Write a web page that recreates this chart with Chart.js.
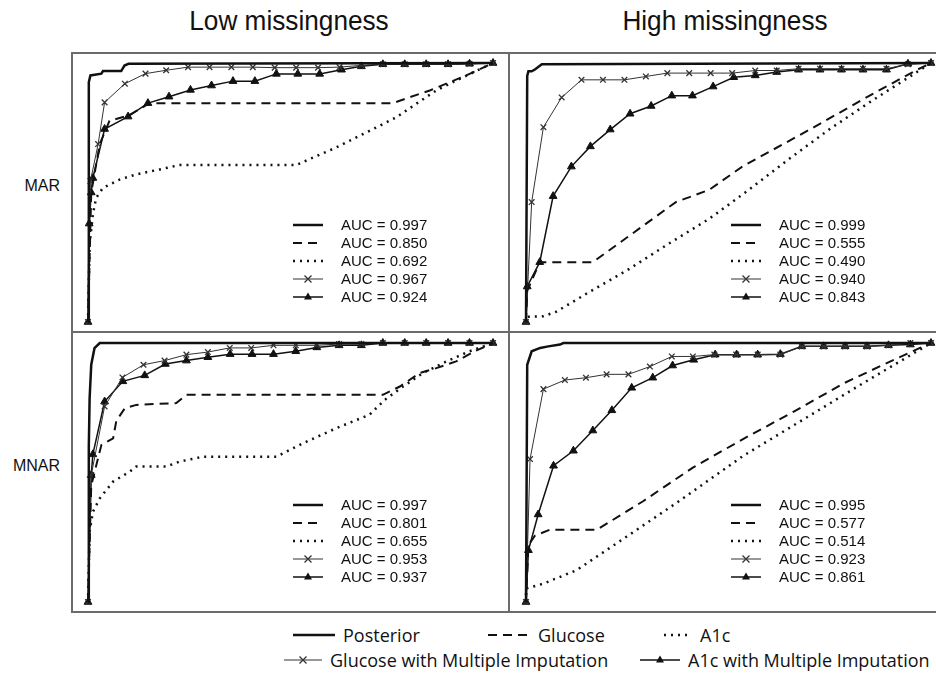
<!DOCTYPE html>
<html>
<head>
<meta charset="utf-8">
<script src="https://cdn.jsdelivr.net/npm/chart.js@4.4.1/dist/chart.umd.min.js"></script>
<style>
	html, body { margin: 0; padding: 0; background: #fff; overflow: hidden; }
	body { width: 936px; height: 680px; position: relative; font-family: 'Liberation Sans', Arial, sans-serif; color: #111; }
	.title { position: absolute; top: 6px; font-size: 27px; transform: translateX(-50%) scaleX(0.97); white-space: nowrap; }
	.row-label { position: absolute; font-size: 16px; right: 876px; transform: translateY(-50%); }
	.rule { position: absolute; background: #6b6b6b; }
	.panel { position: absolute; width: 425px; height: 279px; }
	.auc { position: absolute; font-size: 15px; line-height: 18px; }
	.auc-row { position: relative; height: 18px; white-space: nowrap; }
	.auc-row svg { position: absolute; left: 0; top: 0; }
	.auc-row span { position: absolute; left: 48px; top: 0; }
	.key { position: absolute; font-family: 'Open Sans', sans-serif; font-size: 18px; white-space: nowrap; display: flex; align-items: center; }
	.key svg { margin-right: 8px; }
</style>
</head>
<body>

<div class="title" style="left:289px">Low missingness</div>
<div class="title" style="left:725px">High missingness</div>
<div class="row-label" style="top:186px">MAR</div>
<div class="row-label" style="top:466px">MNAR</div>

<div class="rule" style="left:72px;top:52px;width:870px;height:2px"></div>
<div class="rule" style="left:72px;top:331px;width:870px;height:2px"></div>
<div class="rule" style="left:72px;top:611px;width:870px;height:2px"></div>
<div class="rule" style="left:71px;top:52px;width:2px;height:561px"></div>
<div class="rule" style="left:508px;top:52px;width:2px;height:561px"></div>

<div class="panel" style="left:78px;top:53px"><canvas id="c-low-mar"></canvas></div>
<div class="panel" style="left:516px;top:53px"><canvas id="c-high-mar"></canvas></div>
<div class="panel" style="left:78px;top:333px"><canvas id="c-low-mnar"></canvas></div>
<div class="panel" style="left:516px;top:333px"><canvas id="c-high-mnar"></canvas></div>

<div id="keys"></div>

<script>
// ── Data (FPR, TPR) ───────────────────────────────────────────────────────────

const seriesNames = ['Posterior', 'Glucose', 'A1c', 'Glucose with Multiple Imputation', 'A1c with Multiple Imputation'];

// Low missingness, MAR
const lowMarPosterior = [[0,0],[0.002,0.926],[0.006,0.952],[0.033,0.959],[0.037,0.969],[0.082,0.969],[0.09,0.99],[0.1,0.997],[1,1]];
const lowMarGlucose = [[0,0],[0.008,0.5],[0.029,0.687],[0.053,0.777],[0.1,0.797],[0.152,0.845],[0.753,0.845],[0.794,0.868],[0.844,0.894],[0.893,0.926],[0.934,0.952],[1,1]];
const lowMarA1c = [[0,0],[0.004,0.3],[0.012,0.415],[0.02,0.479],[0.037,0.518],[0.078,0.55],[0.119,0.57],[0.177,0.589],[0.226,0.606],[0.514,0.606],[0.556,0.635],[0.613,0.674],[0.695,0.738],[0.761,0.79],[0.81,0.842],[0.86,0.894],[0.918,0.939],[1,1]];
const lowMarGlucoseMI = [[0,0],[0.006,0.544],[0.025,0.687],[0.041,0.848],[0.091,0.92],[0.142,0.959],[0.193,0.972],[0.247,0.984],[0.3,0.984],[0.354,0.984],[0.407,0.984],[0.461,0.982],[0.514,0.982],[0.568,0.982],[0.621,0.984],[0.675,0.991],[0.728,0.995],[0.782,0.995],[0.835,0.995],[0.889,0.995],[0.942,0.997],[1,1]];
const lowMarA1cMI = [[0,0],[0.003,0.38],[0.008,0.5],[0.012,0.556],[0.041,0.745],[0.099,0.793],[0.148,0.845],[0.2,0.87],[0.253,0.896],[0.305,0.913],[0.358,0.93],[0.412,0.93],[0.465,0.958],[0.518,0.958],[0.572,0.958],[0.626,0.974],[0.675,0.987],[0.728,0.995],[0.782,0.995],[0.835,0.995],[0.889,0.995],[0.942,0.997],[1,1]];
const lowMarAuc = ['0.997', '0.850', '0.692', '0.967', '0.924'];

// High missingness, MAR
const highMarPosterior = [[0,0],[0.003,0.95],[0.006,0.968],[0.014,0.968],[0.022,0.975],[0.039,0.995],[1,1]];
const highMarGlucose = [[0,0],[0.003,0.12],[0.034,0.231],[0.165,0.231],[0.25,0.327],[0.37,0.463],[0.452,0.51],[0.534,0.6],[0.697,0.74],[0.861,0.885],[0.967,0.975],[1,1]];
const highMarA1c = [[0,0],[0,0.02],[0.043,0.022],[0.075,0.04],[0.15,0.11],[0.25,0.2],[0.35,0.3],[0.452,0.398],[0.55,0.51],[0.65,0.63],[0.75,0.745],[0.85,0.85],[0.93,0.93],[1,1]];
const highMarGlucoseMI = [[0,0],[0.014,0.463],[0.043,0.752],[0.088,0.867],[0.137,0.935],[0.19,0.935],[0.243,0.935],[0.296,0.948],[0.349,0.961],[0.403,0.961],[0.456,0.961],[0.509,0.961],[0.566,0.971],[0.619,0.971],[0.673,0.978],[0.726,0.978],[0.779,0.978],[0.832,0.978],[0.89,0.978],[0.943,0.995],[1,1]];
const highMarA1cMI = [[0,0],[0.003,0.137],[0.034,0.231],[0.067,0.486],[0.112,0.6],[0.159,0.678],[0.208,0.743],[0.257,0.804],[0.309,0.834],[0.36,0.874],[0.411,0.874],[0.462,0.909],[0.513,0.945],[0.566,0.952],[0.619,0.965],[0.673,0.974],[0.726,0.974],[0.779,0.974],[0.832,0.974],[0.89,0.974],[0.943,0.997],[1,1]];
const highMarAuc = ['0.999', '0.555', '0.490', '0.940', '0.843'];

// Low missingness, MNAR
const lowMnarPosterior = [[0,0],[0.002,0.6],[0.004,0.787],[0.008,0.916],[0.016,0.98],[0.029,1],[1,1]];
const lowMnarGlucose = [[0,0],[0.008,0.45],[0.033,0.606],[0.062,0.632],[0.07,0.7],[0.091,0.748],[0.119,0.761],[0.218,0.768],[0.243,0.8],[0.728,0.8],[0.77,0.832],[0.819,0.884],[0.86,0.903],[0.909,0.929],[0.955,0.968],[1,1]];
const lowMnarA1c = [[0,0],[0.004,0.271],[0.012,0.348],[0.029,0.4],[0.062,0.465],[0.103,0.503],[0.119,0.523],[0.193,0.523],[0.226,0.542],[0.284,0.561],[0.465,0.561],[0.531,0.613],[0.613,0.671],[0.695,0.723],[0.733,0.781],[0.778,0.832],[0.827,0.884],[0.885,0.929],[0.942,0.968],[1,1]];
const lowMnarGlucoseMI = [[0,0],[0.008,0.49],[0.041,0.755],[0.085,0.867],[0.137,0.916],[0.189,0.932],[0.243,0.955],[0.296,0.965],[0.35,0.981],[0.403,0.981],[0.458,0.991],[0.513,0.991],[0.564,0.991],[0.62,0.996],[0.675,0.996],[0.728,1],[0.782,1],[0.835,1],[0.889,1],[0.942,1],[1,1]];
const lowMnarA1cMI = [[0,0],[0.008,0.49],[0.012,0.57],[0.041,0.774],[0.086,0.852],[0.14,0.875],[0.191,0.919],[0.243,0.932],[0.296,0.945],[0.351,0.957],[0.405,0.957],[0.458,0.957],[0.513,0.968],[0.565,0.983],[0.62,0.991],[0.675,0.991],[0.728,1],[0.782,1],[0.835,1],[0.889,1],[0.942,1],[1,1]];
const lowMnarAuc = ['0.997', '0.801', '0.655', '0.953', '0.937'];

// High missingness, MNAR
const highMnarPosterior = [[0,0],[0.003,0.916],[0.014,0.968],[0.035,0.981],[0.055,0.987],[0.084,0.994],[0.092,1],[1,1]];
const highMnarGlucose = [[0,0],[0.006,0.22],[0.022,0.256],[0.059,0.279],[0.175,0.279],[0.29,0.39],[0.413,0.52],[0.537,0.63],[0.66,0.734],[0.784,0.844],[0.908,0.935],[1,1]];
const highMnarA1c = [[0,0],[0,0.052],[0.043,0.071],[0.125,0.123],[0.249,0.253],[0.372,0.383],[0.537,0.565],[0.702,0.721],[0.825,0.838],[1,1]];
const highMnarGlucoseMI = [[0,0],[0.01,0.552],[0.043,0.822],[0.096,0.857],[0.148,0.866],[0.199,0.879],[0.253,0.879],[0.306,0.909],[0.36,0.948],[0.412,0.948],[0.465,0.955],[0.519,0.955],[0.572,0.955],[0.628,0.955],[0.681,0.987],[0.735,0.987],[0.788,0.987],[0.842,0.987],[0.895,0.991],[0.949,1],[1,1]];
const highMnarA1cMI = [[0,0],[0.006,0.2],[0.03,0.338],[0.068,0.526],[0.117,0.584],[0.165,0.662],[0.212,0.74],[0.261,0.827],[0.313,0.866],[0.362,0.913],[0.414,0.935],[0.467,0.955],[0.52,0.955],[0.572,0.955],[0.628,0.957],[0.681,0.987],[0.735,0.987],[0.788,0.987],[0.842,0.987],[0.895,0.991],[0.949,0.994],[1,1]];
const highMnarAuc = ['0.995', '0.577', '0.514', '0.923', '0.861'];

// ── Styles ────────────────────────────────────────────────────────────────────

const INK = '#111';

const STYLES = [
	{ borderWidth: 2.5, borderDash: [], pointRadius: 0 },
	{ borderWidth: 2, borderDash: [9, 6], pointRadius: 0 },
	{ borderWidth: 2.5, borderDash: [2, 5], pointRadius: 0 },
	{ borderWidth: 1, borderDash: [], pointRadius: 4, pointStyle: 'crossRot', pointBorderWidth: 1.3, color: '#333' },
	{ borderWidth: 1.5, borderDash: [], pointRadius: 4.5, pointStyle: 'triangle', pointBorderWidth: 1 },
];

function toXY(pairs) {
	return pairs.map(([x, y]) => ({ x, y }));
}

function makePanel(id, series) {
	const datasets = series.map((pairs, i) => {
		const s = STYLES[i];
		const c = s.color || INK;
		return {
			label: seriesNames[i],
			data: toXY(pairs),
			borderColor: c,
			backgroundColor: c,
			borderWidth: s.borderWidth,
			borderDash: s.borderDash,
			pointRadius: s.pointRadius,
			pointStyle: s.pointStyle || 'circle',
			pointBorderWidth: s.pointBorderWidth || 1,
			pointBorderColor: c,
			pointBackgroundColor: c,
			tension: 0,
			clip: false,
		};
	});

	new Chart(document.getElementById(id), {
		type: 'line',
		data: { datasets },
		options: {
			responsive: true,
			maintainAspectRatio: false,
			animation: false,
			events: [],
			layout: { padding: 10 },
			plugins: { legend: { display: false }, tooltip: { enabled: false } },
			scales: {
				x: { type: 'linear', min: 0, max: 1, display: false },
				y: { type: 'linear', min: 0, max: 1, display: false },
			},
		},
	});
}

// ── Legend samples (small svg strokes) ────────────────────────────────────────

function sample(i, w) {
	const s = STYLES[i];
	const c = s.color || INK;
	const mid = w / 2;
	let mark = '';
	if (s.pointStyle === 'crossRot') {
		mark = `<path d="M${mid - 3.5} 5.5 L${mid + 3.5} 12.5 M${mid - 3.5} 12.5 L${mid + 3.5} 5.5" stroke="${c}" stroke-width="1.3"/>`;
	} else if (s.pointStyle === 'triangle') {
		mark = `<path d="M${mid} 4.5 L${mid + 4} 11.5 L${mid - 4} 11.5 Z" fill="${c}"/>`;
	}
	const dash = s.borderDash.length ? `stroke-dasharray="${s.borderDash.join(' ')}"` : '';
	return `<svg width="${w}" height="18"><line x1="0" y1="9" x2="${w}" y2="9" stroke="${c}" stroke-width="${s.borderWidth}" ${dash}/>${mark}</svg>`;
}

function aucLegend(left, top, values) {
	const box = document.createElement('div');
	box.className = 'auc';
	box.style.left = left + 'px';
	box.style.top = top + 'px';
	box.innerHTML = values
		.map((v, i) => `<div class="auc-row">${sample(i, 30)}<span>AUC = ${v}</span></div>`)
		.join('');
	document.body.appendChild(box);
}

// ── Build ─────────────────────────────────────────────────────────────────────

makePanel('c-low-mar', [lowMarPosterior, lowMarGlucose, lowMarA1c, lowMarGlucoseMI, lowMarA1cMI]);
makePanel('c-high-mar', [highMarPosterior, highMarGlucose, highMarA1c, highMarGlucoseMI, highMarA1cMI]);
makePanel('c-low-mnar', [lowMnarPosterior, lowMnarGlucose, lowMnarA1c, lowMnarGlucoseMI, lowMnarA1cMI]);
makePanel('c-high-mnar', [highMnarPosterior, highMnarGlucose, highMnarA1c, highMnarGlucoseMI, highMnarA1cMI]);

aucLegend(293, 216, lowMarAuc);
aucLegend(731, 216, highMarAuc);
aucLegend(293, 496, lowMnarAuc);
aucLegend(731, 496, highMnarAuc);

// Shared key under the grid
const keyPos = [
	{ left: 293, top: 623, w: 42 },
	{ left: 488, top: 623, w: 42 },
	{ left: 664, top: 623, w: 28 },
	{ left: 284, top: 648, w: 38 },
	{ left: 640, top: 648, w: 40 },
];
const keys = document.getElementById('keys');
keyPos.forEach((p, i) => {
	const el = document.createElement('div');
	el.className = 'key';
	el.style.left = p.left + 'px';
	el.style.top = p.top + 'px';
	el.innerHTML = sample(i, p.w) + `<span>${seriesNames[i]}</span>`;
	keys.appendChild(el);
});
</script>
</body>
</html>
